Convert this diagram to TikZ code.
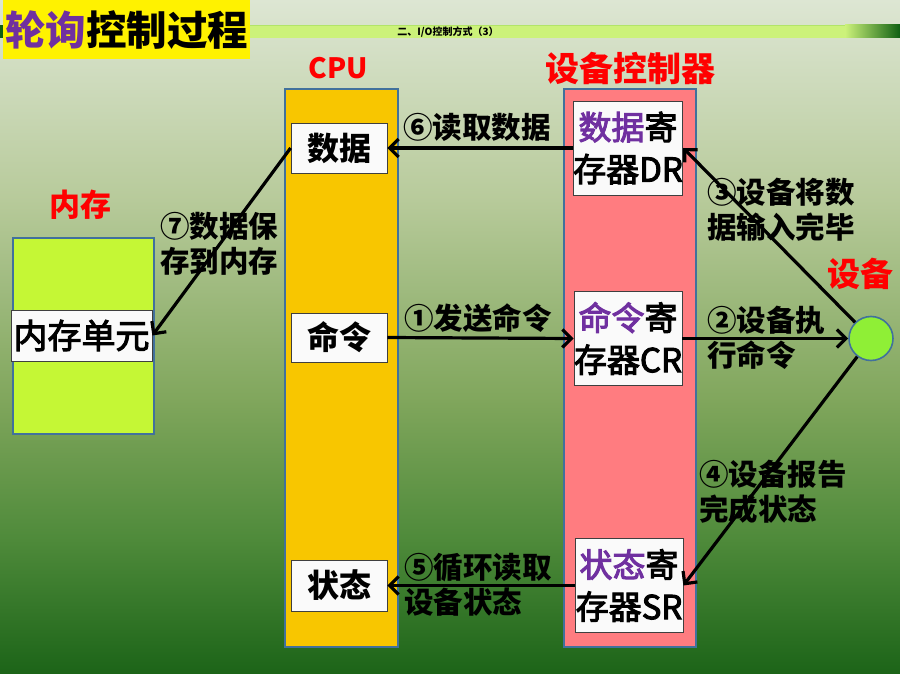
\documentclass[tikz,border=0pt]{standalone}
\usepackage{fontspec}
\setmainfont{Noto Sans CJK SC}
\newfontfamily\medfont[FakeBold=3]{Noto Sans CJK SC}
\usetikzlibrary{arrows.meta}

\definecolor{purp}{HTML}{7030A0}
\definecolor{cpuY}{HTML}{F8C600}
\definecolor{ctrlP}{HTML}{FF7C80}
\definecolor{memG}{HTML}{C5F735}
\definecolor{devG}{HTML}{8FEF36}
\definecolor{edgeB}{HTML}{41719C}
\definecolor{boxE}{HTML}{3F3F3F}
\definecolor{boxF}{HTML}{FAFAFA}
\definecolor{bgA}{HTML}{DDE6D3}
\definecolor{bgB}{HTML}{B7CA9A}
\definecolor{bgC}{HTML}{80A65C}
\definecolor{bgD}{HTML}{4E8A3A}
\definecolor{bgE}{HTML}{1C6418}
\definecolor{barG}{HTML}{CCF27A}
\definecolor{barL}{HTML}{B2E468}
\definecolor{barD}{HTML}{0F6012}

\begin{document}
\begin{tikzpicture}[x=1pt,y=-1pt,
  column/.style={draw=edgeB, line width=1.6pt, anchor=north west, inner sep=0pt},
  cellbox/.style={draw=boxE, fill=boxF, line width=0.8pt, inner sep=0pt, align=center,
    font=\bfseries\fontsize{32}{32}\selectfont},
  regbox/.style={cellbox, minimum width=108pt, minimum height=94pt,
    font=\medfont\fontsize{33}{42}\selectfont},
  heading/.style={text=red, font=\bfseries\fontsize{32}{32}\selectfont, inner sep=0pt},
  lab/.style={font=\bfseries\fontsize{29.5}{35}\selectfont, align=left, inner sep=0pt, anchor=north west},
  conn/.style={draw=black, line width=3.2pt, -{Straight Barb[length=9pt,width=18pt]}}]

\useasboundingbox (0,0) rectangle (900,674);

% background gradient
\fill[top color=bgA, bottom color=bgB] (0,0) rectangle (900,201);
\fill[top color=bgB, bottom color=bgC] (0,200) rectangle (900,401);
\fill[top color=bgC, bottom color=bgD] (0,400) rectangle (900,541);
\fill[top color=bgD, bottom color=bgE] (0,540) rectangle (900,674);

% header band
\fill[barG] (0,25) rectangle (846,38);
\shade[left color=barG, right color=barD] (845,25) rectangle (900,38);
\draw[barL, line width=1.5pt] (0,25.75) -- (845,25.75);
\fill[barD] (0,25) rectangle (4,38);

% title
\node (title) [fill=yellow, anchor=north west, minimum width=247pt, minimum height=59pt, inner sep=0pt]
  at (3,0) {\bfseries\fontsize{40.5}{40}\selectfont\textcolor{purp}{轮询}控制过程};
\node (sub) at (448,32) {\bfseries\fontsize{10}{10}\selectfont 二、I/O控制方式（3）};

% columns
\node (cpu) [column, fill=cpuY, minimum width=113pt, minimum height=558pt] at (284,88) {};
\node (ctrl) [column, fill=ctrlP, minimum width=132pt, minimum height=558pt] at (563,88) {};
\node (mem) [column, fill=memG, minimum width=141pt, minimum height=196pt] at (12,237) {};

% headings
\node (cpuh) [heading, font=\bfseries\fontsize{28}{28}\selectfont] at (338,68) {CPU};
\node (ctrlh) [heading, font=\bfseries\fontsize{34}{34}\selectfont] at (630,68) {设备控制器};
\node (memh) [heading, font=\bfseries\fontsize{31}{31}\selectfont] at (80,205) {内存};
\node (devh) [heading, font=\bfseries\fontsize{33}{33}\selectfont] at (860,274) {设备};

% CPU registers
\node (data) [cellbox, minimum width=96pt, minimum height=50pt] at (339,148) {数据};
\node (cmd) [cellbox, minimum width=96pt, minimum height=49pt] at (339,337.5) {命令};
\node (state) [cellbox, minimum width=96pt, minimum height=51pt] at (339,585.5) {状态};

% controller registers
\node (dr) [regbox] at (628,148) {\textcolor{purp}{数据}寄\\存器DR};
\node (cr) [regbox] at (628,338.5) {\textcolor{purp}{命令}寄\\存器CR};
\node (sr) [regbox] at (629,585.5) {\textcolor{purp}{状态}寄\\存器SR};

% memory cell
\node (unit) [cellbox, minimum width=141pt, minimum height=51pt, font=\medfont\fontsize{34}{34}\selectfont]
  at (81.5,335.5) {内存单元};

% device
\node (dev) [circle, draw=edgeB, fill=devG, line width=1.6pt, minimum size=44pt, inner sep=0pt]
  at (871,338.5) {};

% connectors
\draw[conn] (cmd.east) -- (cr.west);
\draw[conn] (cr.east) -- (dev.west);
\draw[conn] (dev) -- (dr.east);
\draw[conn] (dev) -- (sr.east);
\draw[conn] (sr.west) -- (state.east);
\draw[conn] (dr.west) -- (data.east);
\draw[conn] (data.west) -- (unit.east);

% connector labels
\node (l1) [lab] at (404,304) {①发送命令};
\node (l2) [lab] at (707,306) {②设备执\\行命令};
\node (l3) [lab] at (707,178) {③设备将数\\据输入完毕};
\node (l4) [lab] at (699,460) {④设备报告\\完成状态};
\node (l5) [lab] at (404,553) {⑤循环读取\\设备状态};
\node (l6) [lab] at (403,113) {⑥读取数据};
\node (l7) [lab] at (160,212) {⑦数据保\\存到内存};

\end{tikzpicture}
\end{document}
